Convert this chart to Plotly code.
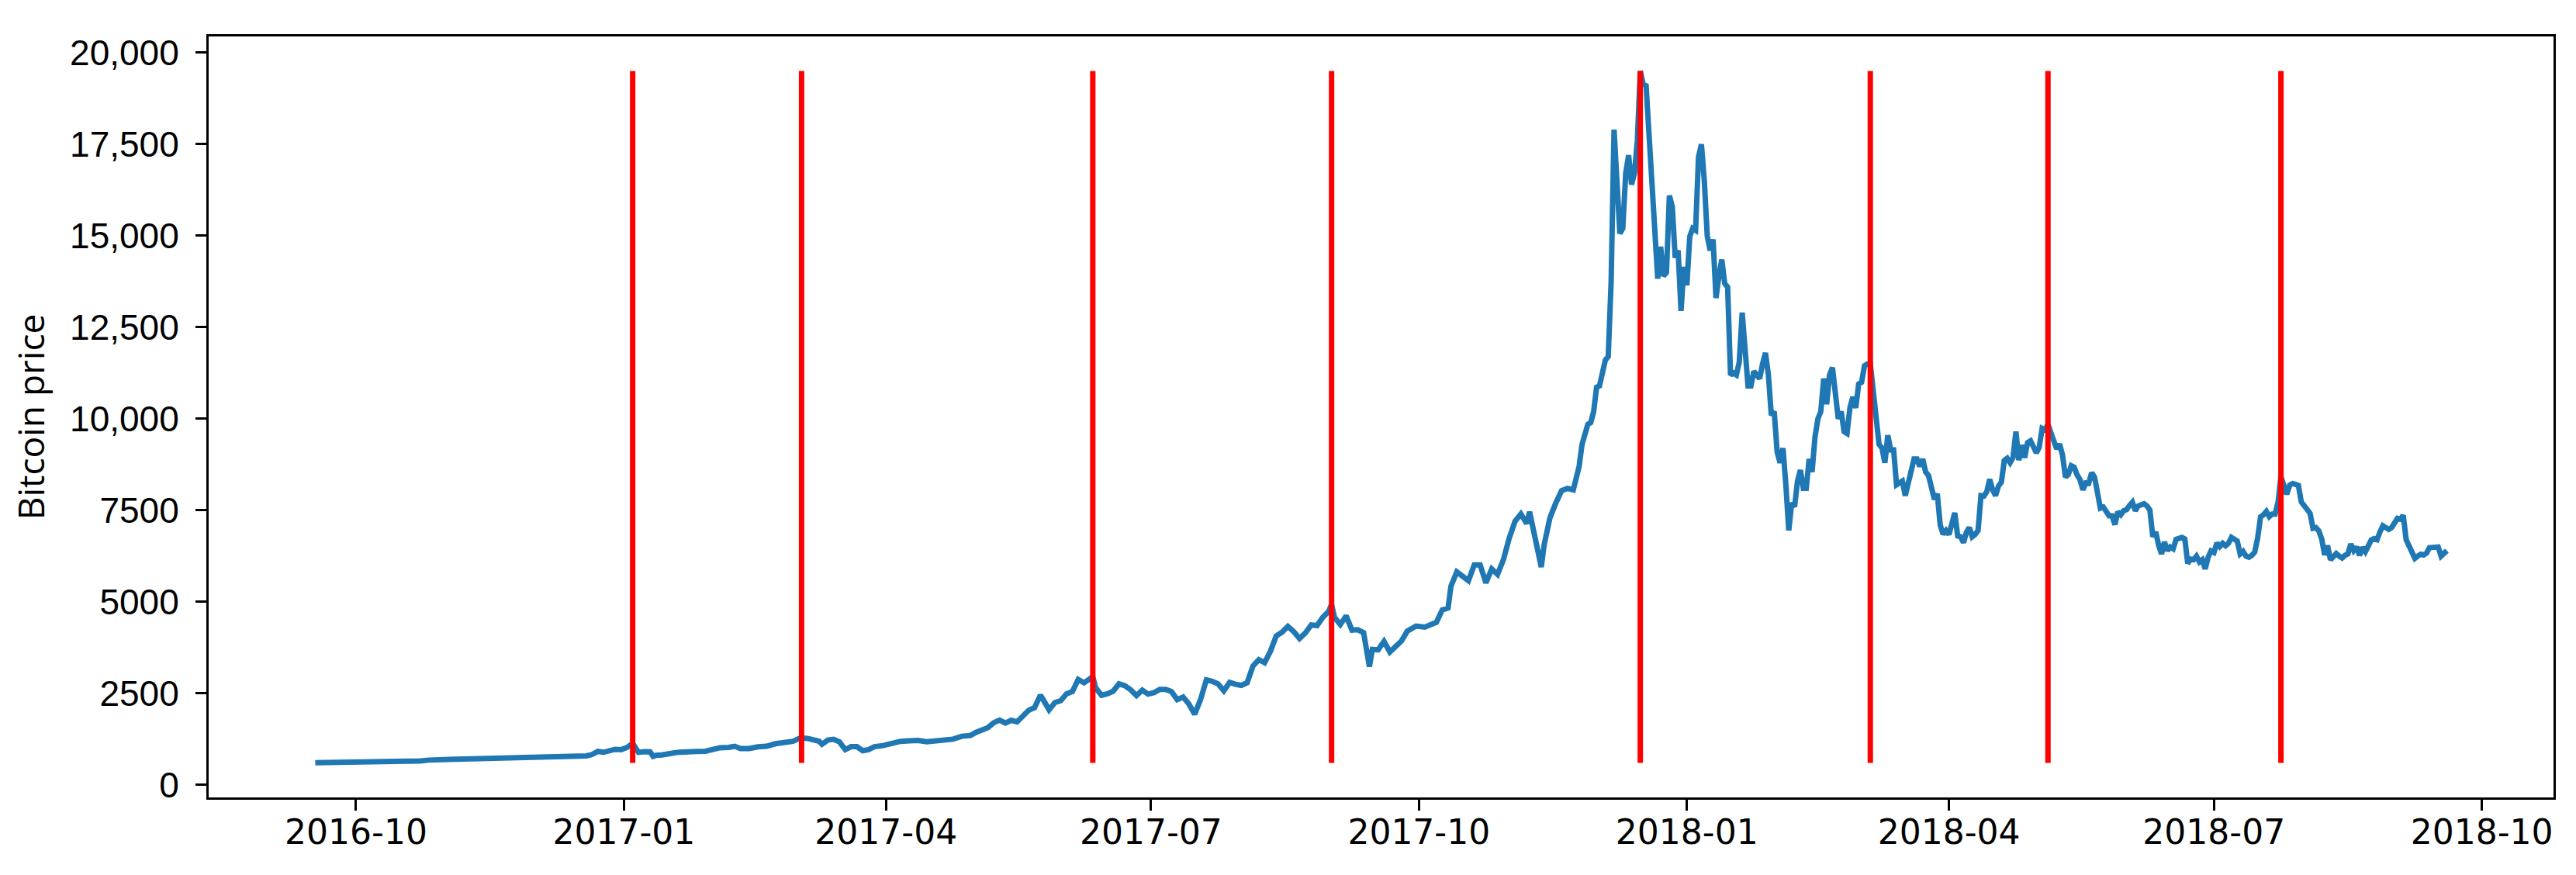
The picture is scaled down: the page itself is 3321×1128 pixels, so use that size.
import plotly.graph_objects as go
import pandas as pd

# daily closing price (USD)
dates_2016 = ["2016-09-17", "2016-09-20", "2016-09-23", "2016-09-26", "2016-09-29", "2016-10-02",
              "2016-10-05", "2016-10-08", "2016-10-11", "2016-10-14", "2016-10-17", "2016-10-20",
              "2016-10-23", "2016-10-26", "2016-10-28", "2016-10-30", "2016-11-02", "2016-11-04",
              "2016-11-07", "2016-11-10", "2016-11-13", "2016-11-16", "2016-11-19", "2016-11-22",
              "2016-11-25", "2016-11-28", "2016-12-01", "2016-12-04", "2016-12-07", "2016-12-10",
              "2016-12-13", "2016-12-16", "2016-12-19", "2016-12-21", "2016-12-23", "2016-12-25",
              "2016-12-27", "2016-12-29", "2016-12-31"]
price_2016 = [607, 609, 603, 606, 605, 612, 612, 617, 640, 638, 637, 630, 655, 678, 688, 700, 730, 703,
              708, 715, 702, 743, 751, 750, 737, 735, 752, 765, 768, 774, 778, 781, 792, 828, 915, 892,
              934, 973, 964]

dates_2017a = ["2017-01-02", "2017-01-04", "2017-01-05", "2017-01-06", "2017-01-08", "2017-01-10",
               "2017-01-11", "2017-01-12", "2017-01-14", "2017-01-16", "2017-01-18", "2017-01-20",
               "2017-01-23", "2017-01-26", "2017-01-29", "2017-01-31", "2017-02-03", "2017-02-06",
               "2017-02-08", "2017-02-10", "2017-02-13", "2017-02-16", "2017-02-19", "2017-02-22",
               "2017-02-25", "2017-02-28", "2017-03-02", "2017-03-03", "2017-03-05", "2017-03-07",
               "2017-03-09", "2017-03-10", "2017-03-12", "2017-03-14", "2017-03-16", "2017-03-18",
               "2017-03-20", "2017-03-22", "2017-03-24", "2017-03-26", "2017-03-28", "2017-03-31",
               "2017-04-03", "2017-04-06", "2017-04-09", "2017-04-12", "2017-04-15", "2017-04-18",
               "2017-04-21", "2017-04-24", "2017-04-27", "2017-04-30", "2017-05-02", "2017-05-04",
               "2017-05-06", "2017-05-08", "2017-05-10", "2017-05-12", "2017-05-14", "2017-05-16",
               "2017-05-18", "2017-05-20", "2017-05-22", "2017-05-24", "2017-05-25", "2017-05-26",
               "2017-05-27", "2017-05-29", "2017-05-31", "2017-06-02", "2017-06-04", "2017-06-06",
               "2017-06-08", "2017-06-10", "2017-06-11", "2017-06-12", "2017-06-14", "2017-06-16",
               "2017-06-18", "2017-06-20", "2017-06-22", "2017-06-24", "2017-06-26", "2017-06-28",
               "2017-06-30"]
price_2017a = [1020, 1135, 990, 890, 908, 905, 780, 810, 820, 830, 870, 895, 922, 915, 920, 966,
               1015, 1025, 1055, 995, 995, 1040, 1055, 1125, 1150, 1190, 1260, 1285, 1270, 1235,
               1195, 1110, 1225, 1245, 1175, 965, 1045, 1045, 935, 965, 1045, 1075, 1145, 1190,
               1205, 1215, 1180, 1215, 1245, 1250, 1330, 1350, 1440, 1510, 1565, 1700, 1770, 1690,
               1765, 1720, 1880, 2040, 2110, 2450, 2325, 2200, 2050, 2250, 2300, 2490, 2550, 2880,
               2790, 2900, 2960, 2650, 2450, 2490, 2560, 2760, 2710, 2600, 2440, 2590, 2480]

dates_2017b = ["2017-07-02", "2017-07-04", "2017-07-06", "2017-07-08", "2017-07-10", "2017-07-12",
               "2017-07-14", "2017-07-16", "2017-07-18", "2017-07-20", "2017-07-22", "2017-07-24",
               "2017-07-26", "2017-07-28", "2017-07-30", "2017-08-01", "2017-08-03", "2017-08-05",
               "2017-08-07", "2017-08-09", "2017-08-11", "2017-08-13", "2017-08-15", "2017-08-17",
               "2017-08-19", "2017-08-21", "2017-08-23", "2017-08-25", "2017-08-27", "2017-08-29",
               "2017-08-31", "2017-09-01", "2017-09-02", "2017-09-04", "2017-09-06", "2017-09-08",
               "2017-09-10", "2017-09-12", "2017-09-14", "2017-09-15", "2017-09-17", "2017-09-19",
               "2017-09-21", "2017-09-23", "2017-09-25", "2017-09-27", "2017-09-30", "2017-10-03",
               "2017-10-05", "2017-10-07", "2017-10-09", "2017-10-11", "2017-10-12", "2017-10-14",
               "2017-10-16", "2017-10-18", "2017-10-20", "2017-10-22", "2017-10-24", "2017-10-26",
               "2017-10-28", "2017-10-30", "2017-11-01", "2017-11-03", "2017-11-05", "2017-11-07",
               "2017-11-08", "2017-11-10", "2017-11-12", "2017-11-13", "2017-11-15", "2017-11-17",
               "2017-11-19", "2017-11-21", "2017-11-23", "2017-11-25", "2017-11-26", "2017-11-28",
               "2017-11-29", "2017-11-30"]
price_2017b = [2520, 2610, 2610, 2550, 2330, 2400, 2210, 1930, 2330, 2870, 2830, 2760, 2570, 2800,
               2750, 2720, 2790, 3250, 3420, 3340, 3650, 4070, 4170, 4330, 4190, 4000, 4150, 4370,
               4350, 4580, 4740, 4930, 4580, 4380, 4620, 4230, 4240, 4160, 3230, 3700, 3690, 3920,
               3630, 3790, 3930, 4200, 4340, 4310, 4370, 4440, 4780, 4830, 5430, 5820, 5700, 5580,
               6010, 6010, 5520, 5900, 5750, 6150, 6740, 7200, 7400, 7140, 7460, 6610, 5950, 6560,
               7300, 7700, 8040, 8100, 8060, 8700, 9300, 9850, 9900, 10200]

dec_2017 = pd.date_range("2017-12-01", "2017-12-31").strftime("%Y-%m-%d").tolist()
price_dec_2017 = [10860, 10900, 11300, 11600, 11700, 13750, 17900, 16570, 15060, 15200, 16700,
                  17200, 16400, 16700, 17600, 19500, 19140, 19100, 17780, 16600, 15600, 13830,
                  14700, 13900, 14000, 16100, 15800, 14400, 14600, 12950, 14150]

jan_apr_2018 = pd.date_range("2018-01-01", "2018-04-30").strftime("%Y-%m-%d").tolist()
price_jan_apr_2018 = [
    13650, 14980, 15200, 15150, 17150, 17500, 16500, 15000, 14600, 14900, 13300, 13900, 14350,
    13700, 13600, 11200, 11250, 11200, 11550, 12900, 11600, 10900, 10900, 11300, 11200, 11100,
    11500, 11800, 11200, 10100, 10200,
    9100, 8800, 9200, 8200, 6950, 7700, 7600, 8300, 8600, 8100, 8100, 8900, 8550, 9500, 10000,
    10200, 11100, 10400, 11200, 11400, 10500, 10000, 10200, 9650, 9600, 10300, 10600, 10300,
    10950, 11000, 11450, 11500, 11500, 10700, 9900, 9300, 9200, 8800, 9550, 9150, 9150, 8200,
    8250, 8300, 7900, 8200, 8600, 8900, 8900, 8700, 8900, 8550, 8450, 8150, 7800, 7950, 7100,
    6850, 6950,
    6840, 7080, 7430, 6800, 6780, 6620, 6900, 7030, 6780, 6840, 6950, 7900, 7890, 8010, 8350,
    8060, 7900, 8160, 8270, 8860, 8920, 8800, 8940, 9650, 8870, 9280, 8940, 9350, 9400, 9240]

may_sep_2018 = pd.date_range("2018-05-01", "2018-09-19").strftime("%Y-%m-%d").tolist()
price_may_sep_2018 = [
    9070, 9220, 9740, 9700, 9850, 9620, 9370, 9180, 9310, 9010, 8410, 8480, 8720, 8680, 8470,
    8340, 8060, 8250, 8240, 8530, 8410, 8020, 7560, 7590, 7460, 7350, 7350, 7110, 7460, 7380,
    7490,
    7520, 7630, 7720, 7490, 7620, 7650, 7680, 7620, 7510, 6780, 6910, 6550, 6310, 6640, 6400,
    6500, 6450, 6710, 6740, 6760, 6720, 6050, 6170, 6150, 6250, 6090, 6150, 5900, 6220, 6390,
    6350, 6610, 6510, 6600, 6530, 6600, 6760, 6710, 6660, 6310, 6380, 6250, 6220, 6270, 6360,
    6740, 7320, 7380, 7470, 7330, 7400, 7400, 7720, 8420, 8180, 7940, 8190, 8230, 8210, 8180,
    7730,
    7620, 7540, 7420, 7010, 7030, 6940, 6720, 6280, 6540, 6150, 6240, 6320, 6250, 6200, 6270,
    6310, 6580, 6400, 6500, 6270, 6490, 6370, 6530, 6690, 6730, 6700, 6910, 7080, 7030, 6980,
    7030,
    7190, 7280, 7260, 7360, 6700, 6510, 6410, 6190, 6250, 6300, 6280, 6330, 6480, 6490, 6520,
    6500, 6250, 6340, 6400]

# dates marked with red vertical lines
event_dates = ["2017-01-04", "2017-03-03", "2017-06-11", "2017-09-01", "2017-12-16",
               "2018-03-05", "2018-05-05", "2018-07-24"]

dates = pd.to_datetime(dates_2016 + dates_2017a + dates_2017b + dec_2017 + jan_apr_2018 + may_sep_2018)
prices = price_2016 + price_2017a + price_2017b + price_dec_2017 + price_jan_apr_2018 + price_may_sep_2018

y_lo, y_hi = min(prices), max(prices)

vx, vy = [], []
for d in event_dates:
    vx += [d, d, None]
    vy += [y_lo, y_hi, None]

fig = go.Figure()
fig.add_trace(go.Scatter(x=dates, y=prices, mode="lines",
                         line=dict(color="#1f77b4", width=7), showlegend=False))
fig.add_trace(go.Scatter(x=vx, y=vy, mode="lines",
                         line=dict(color="#ff0000", width=7), showlegend=False))

# matplotlib-style 5% margins
span = dates.max() - dates.min()
x_range = [dates.min() - span * 0.05, dates.max() + span * 0.05]
pad = (y_hi - y_lo) * 0.05
y_range = [y_lo - pad, y_hi + pad]

ytick_vals = [0, 2500, 5000, 7500, 10000, 12500, 15000, 17500, 20000]
ytick_text = ["0", "2500", "5000", "7500", "10,000", "12,500", "15,000", "17,500", "20,000"]

fig.update_layout(
    width=3321, height=1128,
    margin=dict(l=261, r=37, t=39, b=108),
    paper_bgcolor="white", plot_bgcolor="white",
)
fig.update_xaxes(
    range=x_range, type="date",
    tick0="2016-10-01", dtick="M3", tickformat="%Y-%m",
    showgrid=False, zeroline=False,
    showline=True, linecolor="black", linewidth=3, mirror=True,
    ticks="outside", ticklen=14, tickwidth=3, tickcolor="black",
    tickfont=dict(family="DejaVu Sans", size=44, color="black"),
    ticklabelstandoff=-10,
)
fig.update_yaxes(
    range=y_range,
    tickvals=ytick_vals, ticktext=ytick_text,
    showgrid=False, zeroline=False,
    showline=True, linecolor="black", linewidth=3, mirror=True,
    ticks="outside", ticklen=14, tickwidth=3, tickcolor="black",
    tickfont=dict(family="Liberation Sans", size=46, color="black"),
    ticklabelstandoff=12,
    title=dict(text="Bitcoin price", standoff=26,
               font=dict(family="Open Sans", size=46, color="black")),
)

fig.write_html("out.html")
